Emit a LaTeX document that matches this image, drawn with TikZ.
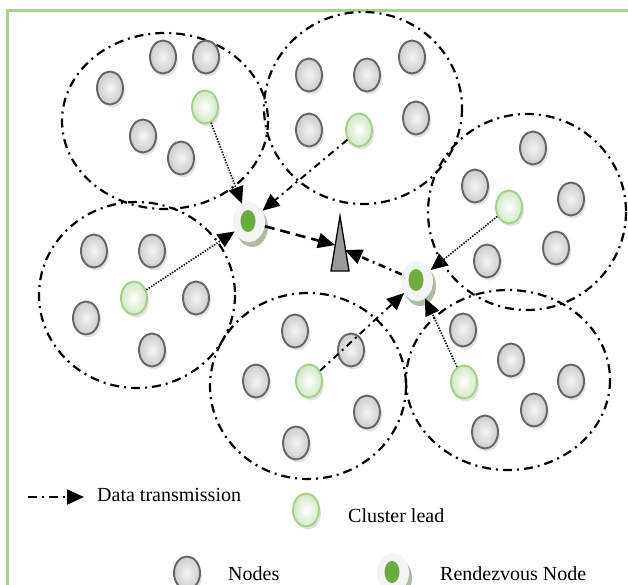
\documentclass[tikz,border=0pt]{standalone}
\usepackage{fontspec}
\setmainfont{Liberation Serif}
\usetikzlibrary{shapes.geometric,arrows.meta,shadows}
\definecolor{bordergreen}{HTML}{A9D18E}
\definecolor{leadedge}{HTML}{A3D18A}
\definecolor{leadfill}{HTML}{D3E8C8}
\definecolor{rvgreen}{HTML}{6AAD3D}
\definecolor{rvshadow}{HTML}{A7B49A}
\definecolor{nodeedge}{HTML}{666666}
\definecolor{sinkgray}{HTML}{999999}
\begin{document}
\begin{tikzpicture}[x=1pt,y=-1pt,
  sensor/.style={ellipse, minimum width=26pt, minimum height=33pt, inner sep=0pt,
    draw=nodeedge, line width=1.9pt, inner color=gray!8, outer color=gray!40,
    drop shadow={shadow xshift=2pt, shadow yshift=-3pt, fill=gray!45, opacity=0.5}},
  lead/.style={ellipse, minimum width=26pt, minimum height=33pt, inner sep=0pt,
    draw=leadedge, line width=1.9pt, inner color=white, outer color=leadfill,
    drop shadow={shadow xshift=2pt, shadow yshift=-3pt, fill=gray!45, opacity=0.5}},
  rvhalo/.style={ellipse, minimum width=32pt, minimum height=40pt, inner sep=0pt,
    fill=gray!9, draw=none,
    drop shadow={shadow xshift=3pt, shadow yshift=-5pt, fill=rvshadow, opacity=0.9}},
  rvcore/.style={ellipse, minimum width=15pt, minimum height=22pt, inner sep=0pt, fill=rvgreen},
  cluster/.style={draw, line width=2.2pt, dash pattern=on 9pt off 5pt on 2pt off 5pt},
  tip/.style={-{Triangle[length=17pt,width=15pt]}},
  dotlink/.style={tip, line width=1.6pt, dash pattern=on 1.4pt off 1.4pt},
  dashdotlink/.style={tip, line width=1.9pt, dash pattern=on 7pt off 4.5pt on 2pt off 4.5pt},
  dashlink/.style={tip, line width=2.6pt, dash pattern=on 10pt off 6pt},
  label/.style={font=\fontsize{20}{23}\selectfont, anchor=west, inner sep=0pt}
]
\useasboundingbox (0,0) rectangle (628,585);
\fill[white] (0,0) rectangle (628,585);
% border
\draw[bordergreen, line width=3pt] (7,585) -- (7,11) -- (628,11);

% clusters
\draw[cluster] (165,121) ellipse [x radius=103, y radius=88];
\draw[cluster] (363,108) ellipse [x radius=99, y radius=96];
\draw[cluster] (527,212) ellipse [x radius=99, y radius=98];
\draw[cluster] (137,295) ellipse [x radius=98, y radius=93];
\draw[cluster] (308,386) ellipse [x radius=98, y radius=93];
\draw[cluster] (508,380) ellipse [x radius=102, y radius=90];

% upper-left cluster
\node[sensor] (a1) at (163,57) {};
\node[sensor] (a2) at (206,57) {};
\node[sensor] (a3) at (110,88) {};
\node[sensor] (a4) at (143,136) {};
\node[sensor] (a5) at (181,158) {};
\node[lead] (la) at (205,107) {};
% top-middle cluster
\node[sensor] (b1) at (309,75) {};
\node[sensor] (b2) at (367,75) {};
\node[sensor] (b3) at (412,57) {};
\node[sensor] (b4) at (309,130) {};
\node[sensor] (b5) at (416,118) {};
\node[lead] (lb) at (359,130) {};
% right cluster
\node[sensor] (c1) at (533,148) {};
\node[sensor] (c2) at (475,186) {};
\node[sensor] (c3) at (571,199) {};
\node[sensor] (c4) at (556,248) {};
\node[sensor] (c5) at (487,261) {};
\node[lead] (lc) at (509,207) {};
% left cluster
\node[sensor] (d1) at (94,251) {};
\node[sensor] (d2) at (152,251) {};
\node[sensor] (d3) at (86,318) {};
\node[sensor] (d4) at (196,298) {};
\node[sensor] (d5) at (152,350) {};
\node[lead] (ld) at (134,298) {};
% bottom-middle cluster
\node[sensor] (e1) at (295,331) {};
\node[sensor] (e2) at (351,350) {};
\node[sensor] (e3) at (256,381) {};
\node[sensor] (e4) at (367,412) {};
\node[sensor] (e5) at (296,443) {};
\node[lead] (le) at (309,381) {};
% bottom-right cluster
\node[sensor] (f1) at (463,330) {};
\node[sensor] (f2) at (511,360) {};
\node[sensor] (f3) at (571,381) {};
\node[sensor] (f4) at (534,410) {};
\node[sensor] (f5) at (485,432) {};
\node[lead] (lf) at (464,382) {};

% rendezvous nodes
\node[rvhalo] (rvL) at (249,222) {};
\node[rvcore] (rvLc) at (248,221) {};
\node[rvhalo] (rvR) at (417,281) {};
\node[rvcore] (rvRc) at (416,280) {};

% sink
\coordinate (sinkTop) at (340,216);
\coordinate (sinkBL) at (331,271);
\coordinate (sinkBR) at (349,271);
\coordinate (sinkL) at (335,245);
\coordinate (sinkR) at (345,250);
\draw[line width=1.3pt, fill=sinkgray, line join=miter] (sinkTop) -- (sinkBL) -- (sinkBR) -- cycle;

% links
\draw[dotlink] (la) -- (rvL);
\draw[dashdotlink] (lb) -- (rvL);
\draw[dotlink] (ld) -- (rvL);
\draw[dotlink] (lc) -- (rvR);
\draw[dotlink] (lf) -- (rvR);
\draw[dashdotlink] (le) -- (rvR);
\draw[dashlink] (rvL) -- (sinkL);
\draw[dashdotlink, line width=2.6pt] (rvR) -- (sinkR);

% legend
\coordinate (lgA) at (28,497);
\coordinate (lgB) at (84,497);
\draw[tip, line width=2pt, dash pattern=on 9pt off 5pt on 2pt off 5pt] (lgA) -- (lgB);
\node[label] (t1) at (97,495) {Data transmission};
\node[lead] (lgLead) at (306,510) {};
\node[label] (t2) at (348,516) {Cluster lead};
\node[sensor] (lgNode) at (187,573) {};
\node[label] (t3) at (228,574) {Nodes};
\node[rvhalo] (lgRv) at (393,573) {};
\node[rvcore] (lgRvc) at (392,572) {};
\node[label] (t4) at (440,574) {Rendezvous Node};
\end{tikzpicture}
\end{document}
